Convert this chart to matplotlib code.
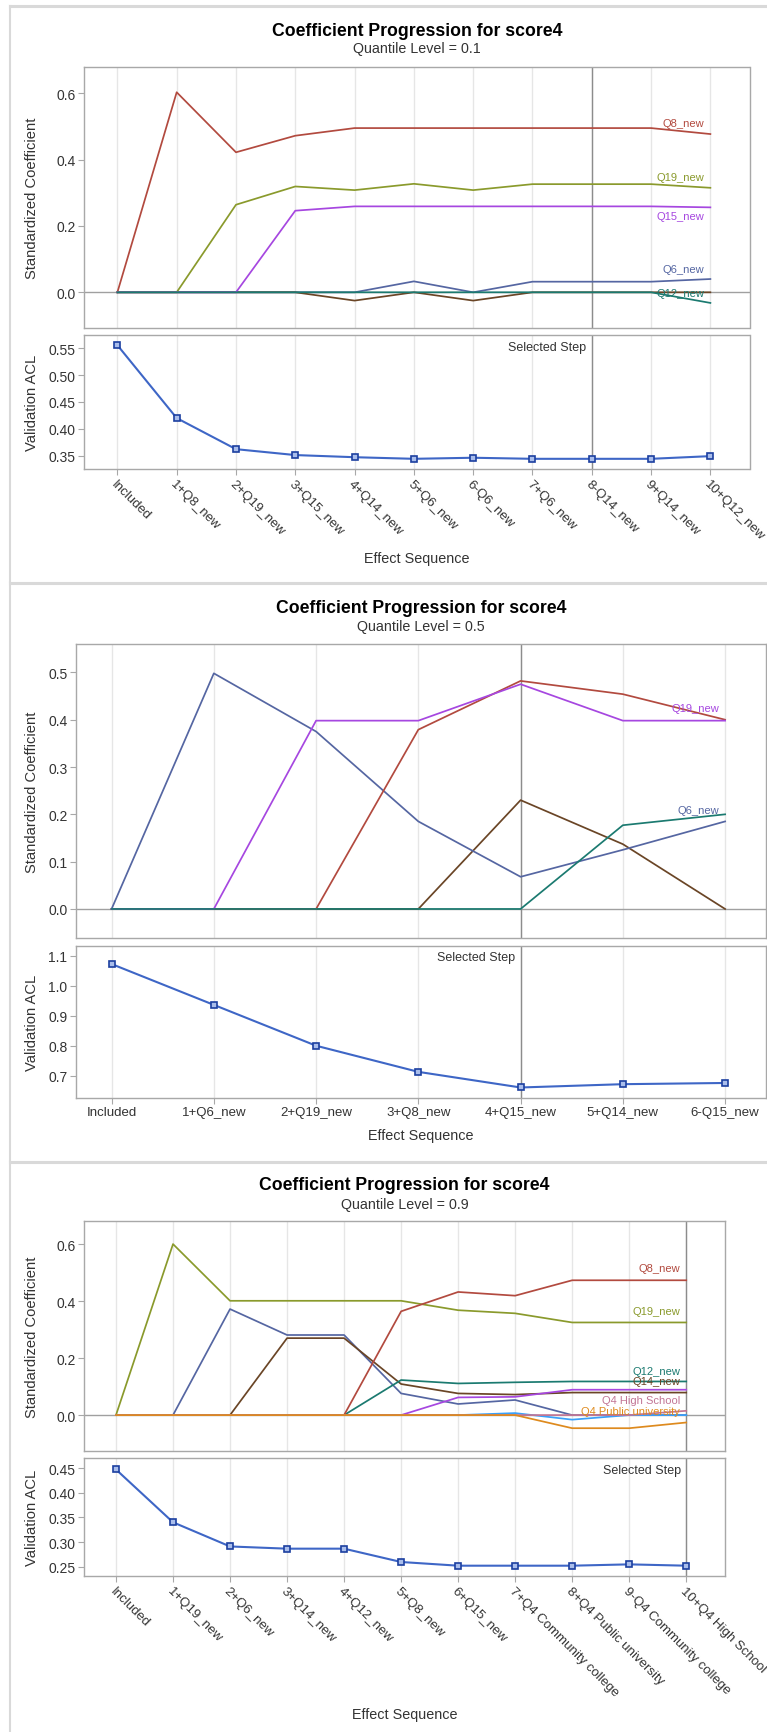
import matplotlib
matplotlib.use("Agg")
import matplotlib.pyplot as plt
from matplotlib.lines import Line2D

plt.rcParams['font.family'] = ['Liberation Sans', 'DejaVu Sans']

# ---------------- data ----------------
steps_q1 = ["Included", "1+Q8_new", "2+Q19_new", "3+Q15_new", "4+Q14_new", "5+Q6_new",
            "6-Q6_new", "7+Q6_new", "8-Q14_new", "9+Q14_new", "10+Q12_new"]
q1_Q8 = [0, 0.603, 0.422, 0.472, 0.495, 0.495, 0.495, 0.495, 0.495, 0.495, 0.477]
q1_Q19 = [0, 0, 0.264, 0.319, 0.308, 0.327, 0.308, 0.326, 0.326, 0.326, 0.315]
q1_Q15 = [0, 0, 0, 0.246, 0.259, 0.259, 0.259, 0.259, 0.259, 0.259, 0.256]
q1_Q6 = [0, 0, 0, 0, 0, 0.033, 0, 0.032, 0.032, 0.032, 0.040]
q1_Q14 = [0, 0, 0, 0, -0.025, 0, -0.025, 0, 0, 0, 0]
q1_Q12 = [0, 0, 0, 0, 0, 0, 0, 0, 0, 0, -0.032]
acl_q1 = [0.556, 0.420, 0.362, 0.351, 0.347, 0.344, 0.346, 0.344, 0.344, 0.344, 0.349]
selected_q1 = 8

steps_q5 = ["Included", "1+Q6_new", "2+Q19_new", "3+Q8_new", "4+Q15_new", "5+Q14_new", "6-Q15_new"]
q5_Q6 = [0, 0.498, 0.375, 0.185, 0.068, 0.125, 0.185]
q5_Q19 = [0, 0, 0.398, 0.398, 0.475, 0.398, 0.398]
q5_Q8 = [0, 0, 0, 0.379, 0.482, 0.454, 0.400]
q5_Q15 = [0, 0, 0, 0, 0.230, 0.137, 0]
q5_Q14 = [0, 0, 0, 0, 0, 0.177, 0.200]
acl_q5 = [1.072, 0.936, 0.800, 0.713, 0.661, 0.672, 0.676]
selected_q5 = 4

steps_q9 = ["Included", "1+Q19_new", "2+Q6_new", "3+Q14_new", "4+Q12_new", "5+Q8_new", "6+Q15_new",
            "7+Q4 Community college", "8+Q4 Public university", "9-Q4 Community college",
            "10+Q4 High School"]
q9_Q19 = [0, 0.600, 0.401, 0.401, 0.401, 0.401, 0.368, 0.357, 0.325, 0.325, 0.325]
q9_Q6 = [0, 0, 0.372, 0.281, 0.281, 0.076, 0.039, 0.053, 0, 0, 0]
q9_Q14 = [0, 0, 0, 0.270, 0.270, 0.109, 0.076, 0.072, 0.079, 0.079, 0.079]
q9_Q12 = [0, 0, 0, 0, 0, 0.123, 0.111, 0.115, 0.118, 0.118, 0.118]
q9_Q8 = [0, 0, 0, 0, 0, 0.364, 0.432, 0.419, 0.473, 0.473, 0.473]
q9_Q15 = [0, 0, 0, 0, 0, 0, 0.062, 0.064, 0.089, 0.089, 0.089]
q9_Q4CC = [0, 0, 0, 0, 0, 0, 0, 0.007, -0.016, 0, 0]
q9_Q4HS = [0, 0, 0, 0, 0, 0, 0, 0, 0, 0, 0.015]
q9_Q4PU = [0, 0, 0, 0, 0, 0, 0, 0, -0.046, -0.046, -0.026]
acl_q9 = [0.447, 0.340, 0.291, 0.2865, 0.2865, 0.2595, 0.252, 0.252, 0.252, 0.2547, 0.252]
selected_q9 = 10

# ---------------- style ----------------
C = {
    'red': '#B24A3F', 'olive': '#8A9A2C', 'purple': '#A647E0', 'blue': '#5566A2',
    'teal': '#1B7A70', 'brown': '#6A4526', 'lblue': '#3AA0FA', 'pink': '#C27595',
    'orange': '#DE8A1E',
}
TXT = '#333333'
SPINE = '#a8a8a8'
GRID = '#e6e6e6'
REFL = '#8c8c8c'

W, H = 767, 1733
fig = plt.figure(figsize=(W / 100, H / 100), dpi=100)


def rect(l, t, r, b):
    return [l / W, 1 - b / H, (r - l) / W, (b - t) / H]


def style_axes(ax, n, xlim, ylim):
    ax.set_xlim(*xlim)
    ax.set_ylim(*ylim)
    for s in ax.spines.values():
        s.set_color(SPINE)
        s.set_linewidth(1.0)
    ax.set_xticks(range(n))
    ax.grid(axis='x', color=GRID, lw=1.0)
    ax.set_axisbelow(True)
    ax.tick_params(axis='y', length=4, color=SPINE, labelsize=10, labelcolor=TXT, pad=2)


def panel(top_px, title_y, sub_y, sub, up, lo, steps, series, labels, acl, sel,
          xlim, ylim_up, ylim_lo, yt_up, yt_lo, fmt_up, fmt_lo, rotate, lab_ylabel_x,
          xlab_y, xlab_tick_y, border):
    l, r = up[0], up[2]
    cx = (l + r) / 2
    # outer panel border
    bl, bt, bb = border
    fig.add_artist(Line2D([bl / W, 1.2], [1 - bt / H, 1 - bt / H], color='#d9d9d9', lw=2.2,
                          transform=fig.transFigure))
    fig.add_artist(Line2D([bl / W, bl / W], [1 - bt / H, 1 - bb / H], color='#d9d9d9', lw=1.5,
                          transform=fig.transFigure))
    fig.text(cx / W, 1 - title_y / H, "Coefficient Progression for score4", ha='center',
             va='center', fontsize=12.7, fontweight='bold', color='black')
    fig.text(cx / W, 1 - sub_y / H, sub, ha='center', va='center', fontsize=10.3, color=TXT)

    n = len(steps)
    x = list(range(n))
    ax1 = fig.add_axes(rect(*up))
    style_axes(ax1, n, xlim, ylim_up)
    ax1.tick_params(axis='x', length=0, labelbottom=False)
    ax1.axhline(0, color='#a0a0a0', lw=1.0, zorder=1.5)
    ax1.axvline(sel, color=REFL, lw=1.0, zorder=1.6)
    for vals, col in series:
        ax1.plot(x, vals, color=col, lw=1.25, zorder=2, solid_joinstyle='round')
    for text, vals, col, dy in labels:
        ax1.annotate(text, xy=(n - 1, vals[-1]), xytext=(-4.5, dy), textcoords='offset points',
                     ha='right', va='center', fontsize=8, color=col, zorder=3)
    ax1.set_yticks(yt_up)
    ax1.set_yticklabels([fmt_up % v for v in yt_up])

    ax2 = fig.add_axes(rect(*lo))
    style_axes(ax2, n, xlim, ylim_lo)
    ax2.axvline(sel, color=REFL, lw=1.0, zorder=1.6)
    ax2.plot(x, acl, color='#3E66C6', lw=1.5, marker='s', ms=4.5, mfc='#A9BDEB',
             mec='#1C3FA0', mew=1.2, zorder=3)
    ax2.annotate("Selected Step", xy=(sel, 1), xycoords=('data', 'axes fraction'),
                 xytext=(-4, -4), textcoords='offset points', ha='right', va='top',
                 fontsize=9, color=TXT)
    ax2.set_yticks(yt_lo)
    ax2.set_yticklabels([fmt_lo % v for v in yt_lo])
    ax2.tick_params(axis='x', length=4, color=SPINE, labelsize=9.5, labelcolor=TXT, pad=2)
    if rotate:
        ax2.set_xticklabels(steps, rotation=-45, ha='left', va='top', rotation_mode='anchor')
        for t in ax2.get_xticklabels():
            t.set_x(t.get_position()[0])
    else:
        ax2.set_xticklabels(steps)

    fig.text(lab_ylabel_x / W, 1 - (up[1] + up[3]) / 2 / H, "Standardized Coefficient",
             rotation=90, ha='center', va='center', fontsize=10.6, color=TXT)
    fig.text(lab_ylabel_x / W, 1 - (lo[1] + lo[3]) / 2 / H, "Validation ACL",
             rotation=90, ha='center', va='center', fontsize=10.6, color=TXT)
    fig.text(cx / W, 1 - xlab_y / H, "Effect Sequence", ha='center', va='center',
             fontsize=10.4, color=TXT)
    return ax1, ax2


# ---- panel 1 (quantile 0.1)
panel(0, 31.5, 49, "Quantile Level = 0.1",
      (84, 67.7, 749.5, 329.3), (84, 336, 749.5, 470),
      steps_q1,
      [(q1_Q6, C['blue']), (q1_Q14, C['brown']), (q1_Q8, C['red']), (q1_Q19, C['olive']),
       (q1_Q15, C['purple']), (q1_Q12, C['teal'])],
      [("Q8_new", q1_Q8, C['red'], 8), ("Q19_new", q1_Q19, C['olive'], 8),
       ("Q15_new", q1_Q15, C['purple'], -6.5), ("Q6_new", q1_Q6, C['blue'], 7.5),
       ("Q12_new", q1_Q12, C['teal'], 7.5)],
      acl_q1, selected_q1,
      (-0.563, 10.66), (-0.1085, 0.68), (0.325, 0.575),
      [0.0, 0.2, 0.4, 0.6], [0.35, 0.40, 0.45, 0.50, 0.55], '%.1f', '%.2f',
      True, 32, 559, None, (10, 7, 582))

# ---- panel 2 (quantile 0.5)
panel(0, 608.5, 626.5, "Quantile Level = 0.5",
      (75.8, 645, 766, 939.3), (75.8, 946.7, 766, 1099),
      steps_q5,
      [(q5_Q15, C['brown']), (q5_Q6, C['blue']), (q5_Q8, C['red']), (q5_Q19, C['purple']),
       (q5_Q14, C['teal'])],
      [("Q19_new", q5_Q19, C['purple'], 9), ("Q6_new", q5_Q6, C['blue'], 8)],
      acl_q5, selected_q5,
      (-0.35, 6.40), (-0.062, 0.56), (0.626, 1.133),
      [0.0, 0.1, 0.2, 0.3, 0.4, 0.5], [0.7, 0.8, 0.9, 1.0, 1.1], '%.1f', '%.1f',
      False, 32, 1136, None, (10, 584, 1161))

# ---- panel 3 (quantile 0.9)
panel(0, 1186, 1204.5, "Quantile Level = 0.9",
      (84, 1222, 725, 1452), (84, 1459.3, 725, 1577.3),
      steps_q9,
      [(q9_Q6, C['blue']), (q9_Q14, C['brown']), (q9_Q19, C['olive']), (q9_Q12, C['teal']),
       (q9_Q8, C['red']), (q9_Q15, C['purple']), (q9_Q4CC, C['lblue']), (q9_Q4HS, C['pink']),
       (q9_Q4PU, C['orange'])],
      [("Q8_new", q9_Q8, C['red'], 8.5), ("Q19_new", q9_Q19, C['olive'], 8.5),
       ("Q12_new", q9_Q12, C['teal'], 7.5), ("Q14_new", q9_Q14, C['brown'], 8),
       ("Q4 High School", q9_Q4HS, C['pink'], 8), ("Q4 Public university", q9_Q4PU, C['orange'], 8)],
      acl_q9, selected_q9,
      (-0.561, 10.68), (-0.126, 0.681), (0.2305, 0.4697),
      [0.0, 0.2, 0.4, 0.6], [0.25, 0.30, 0.35, 0.40, 0.45], '%.1f', '%.2f',
      True, 32, 1715, None, (10, 1163, 1740))

fig.savefig("out.png", dpi=100, facecolor='white')
